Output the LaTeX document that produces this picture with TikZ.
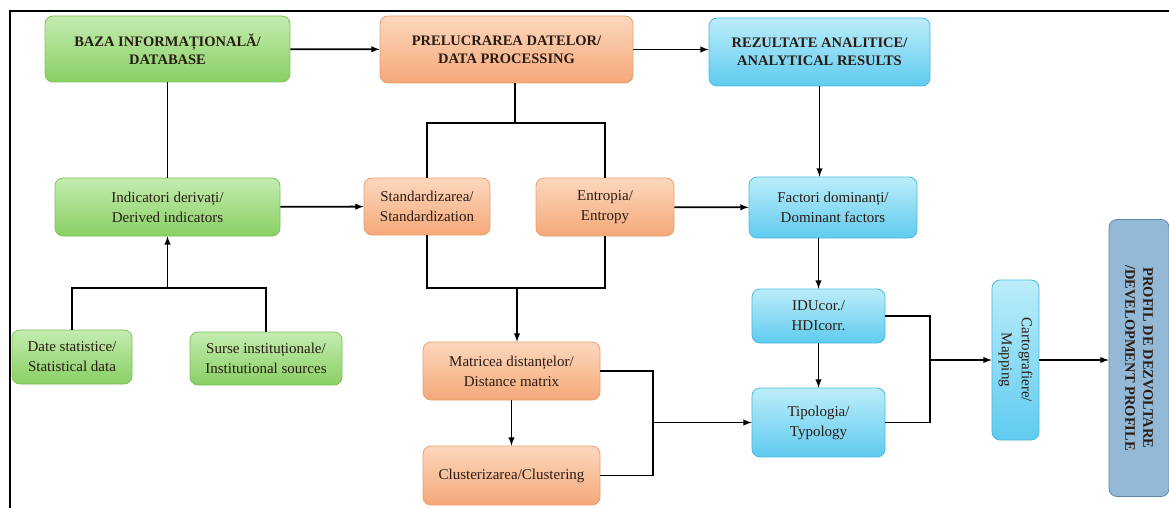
\documentclass[tikz,border=0pt]{standalone}
\usepackage{fontspec}
\setmainfont{Liberation Serif}
\usepackage{tikz}

\definecolor{grtop}{HTML}{C4ECB0}
\definecolor{grbot}{HTML}{88D064}
\definecolor{grline}{HTML}{7FC25A}
\definecolor{ortop}{HTML}{FCD8BE}
\definecolor{orbot}{HTML}{F5A878}
\definecolor{orline}{HTML}{E9A070}
\definecolor{bltop}{HTML}{BCEDFA}
\definecolor{blbot}{HTML}{5FCBEF}
\definecolor{blline}{HTML}{4DB8DE}
\definecolor{prfill}{HTML}{94B9D6}
\definecolor{prline}{HTML}{5D88AD}
\definecolor{txt}{HTML}{2A1C14}

\tikzset{
  box/.style={rectangle, rounded corners=8pt, align=center, text=txt,
    font=\fontsize{15}{20}\selectfont, line width=0.8pt},
  head/.style={box, font=\fontsize{14.5}{18}\selectfont\bfseries},
  green/.style={draw=grline, top color=grtop, bottom color=grbot},
  orange/.style={draw=orline, top color=ortop, bottom color=orbot},
  blue/.style={draw=blline, top color=bltop, bottom color=blbot},
}

\begin{document}
\begin{tikzpicture}[x=1pt, y=-1pt, line width=1.8pt, >=latex]
        \useasboundingbox (0,0) rectangle (1169,508);
        % frame
        \draw[line width=2pt] (10,508) -- (10,11) -- (1169,11);
        % top row
        \draw (167.5,49)  node[head,green,minimum width=245,minimum height=66] (db) {BAZA INFORMAȚIONALĂ/\\DATABASE};
        \draw (506.5,49.5) node[head,orange,minimum width=253,minimum height=67] (pd) {PRELUCRAREA DATELOR/\\DATA PROCESSING};
        \draw (819.5,52)  node[head,blue,minimum width=221,minimum height=68] (ar) {REZULTATE ANALITICE/\\ANALYTICAL RESULTS};
        % second row
        \draw (167.5,207) node[box,green,minimum width=225,minimum height=58] (ind) {Indicatori derivați/\\Derived indicators};
        \draw (427,206.5) node[box,orange,minimum width=126,minimum height=57] (std) {Standardizarea/\\Standardization};
        \draw (605,207)   node[box,orange,minimum width=138,minimum height=58] (ent) {Entropia/\\Entropy};
        \draw (833,207.5) node[box,blue,minimum width=168,minimum height=61] (dom) {Factori dominanți/\\Dominant factors};
        % sources
        \draw (72,357)    node[box,green,minimum width=120,minimum height=54] (ds) {Date statistice/\\Statistical data};
        \draw (266,358.5) node[box,green,minimum width=152,minimum height=53] (si) {Surse instituționale/\\Institutional sources};
        % processing
        \draw (511.5,371)   node[box,orange,minimum width=177,minimum height=58] (mat) {Matricea distanțelor/\\Distance matrix};
        \draw (511.5,475.5) node[box,orange,minimum width=177,minimum height=59] (cl) {Clusterizarea/Clustering};
        % results
        \draw (818.5,316)   node[box,blue,minimum width=133,minimum height=54] (idu) {IDUcor./\\HDIcorr.};
        \draw (818.5,422.5) node[box,blue,minimum width=133,minimum height=69] (tip) {Tipologia/\\Typology};
        \draw (1015.5,360)  node[box,blue,rotate=-90,minimum width=160,minimum height=47] (map) {Cartografiere/\\Mapping};
        \draw (1139,358)    node[head,draw=prline,fill=prfill,rotate=-90,minimum width=277,minimum height=60] (prof) {PROFIL DE DEZVOLTARE\\/DEVELOPMENT PROFILE};
        % junctions
        \coordinate (pj) at (515,123);
        \coordinate (ij) at (167.5,288);
        \coordinate (sj) at (517,288);
        \coordinate (mj) at (653,422.5);
        \coordinate (tj) at (930,360);
        % connectors
        \draw[->] (db) -- (pd);
        \draw[->] (pd.east) -- (pd.east -| ar.west);
        \draw (db) -- (ind);
        \draw (pj |- pd.south) -- (pj);
        \draw (std.north) |- (pj) -| (ent.north);
        \draw[->] (ind) -- (std);
        \draw[->] (ent) -- (dom);
        \draw[->] (ar.south) -- (ar.south |- dom.north);
        \draw (ds.north) |- (ij) -| (si.north);
        \draw[->] (ij) -- (ind.south);
        \draw (std.south) |- (sj) -| (ent.south);
        \draw[->] (sj) -- (sj |- mat.north);
        \draw[->] (mat) -- (cl);
        \draw (mat.east) -| (mj) |- (cl.east);
        \draw[->] (mj) -- (tip.west);
        \draw[->] (idu.north |- dom.south) -- (idu.north);
        \draw[->] (idu) -- (tip);
        \draw (idu.east) -| (tj) |- (tip.east);
        \draw[->] (tj) -- (map);
        \draw[->] (map) -- (map -| prof.south);
\end{tikzpicture}
\end{document}
